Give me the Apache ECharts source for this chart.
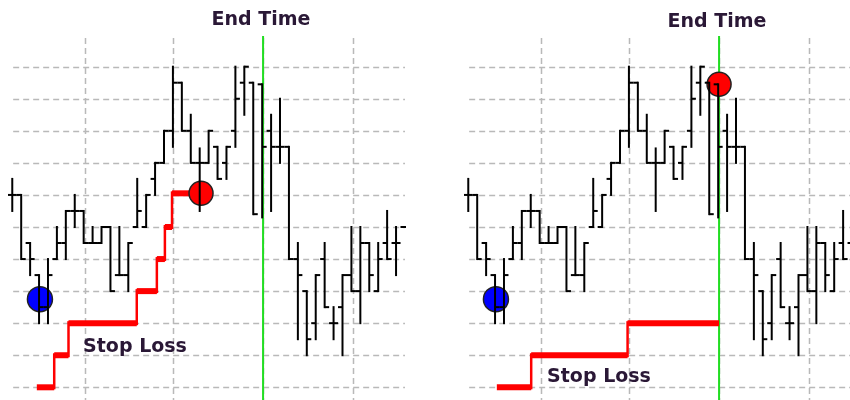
<!DOCTYPE html>
<html>
<head>
<meta charset="utf-8">
<script src="https://cdn.jsdelivr.net/npm/echarts@6/dist/echarts.min.js"></script>
<style>
  html, body { margin: 0; padding: 0; background: #ffffff; }
  #chart { width: 850px; height: 400px; }
</style>
</head>
<body>
<div id="chart"></div>
<script>
// Price bars (open / high / low / close), one per period
const barOpen  = [6.0, 6.0, 4.5, 3.5, 2.5, 4.0, 4.5, 5.5, 5.5, 4.5, 4.5, 5.0, 3.5, 3.5, 5.0, 5.0, 6.5, 7.0, 8.0, 9.5, 8.0, 7.0, 7.0, 7.5, 7.0, 8.0, 9.5, 9.5, 9.45, 8.0, 7.5, 7.5, 4.0, 3.0, 2.0, 4.0, 2.0, 2.5, 3.5, 3.0, 4.5, 3.0, 4.5, 4.5, 5.0];
const barHigh  = [6.5, 6.0, 4.5, 3.5, 4.0, 5.0, 5.5, 6.0, 5.5, 5.0, 5.0, 5.0, 5.0, 4.5, 6.5, 6.0, 7.0, 8.0, 10.0, 9.5, 8.5, 7.45, 8.0, 7.5, 7.5, 10.0, 10.0, 9.5, 9.45, 8.5, 9.0, 7.5, 4.5, 3.0, 3.5, 4.5, 2.5, 3.5, 5.0, 5.0, 4.5, 4.5, 5.5, 5.0, 5.0];
const barLow   = [5.5, 4.0, 3.5, 2.0, 2.0, 4.0, 4.0, 5.0, 4.5, 4.5, 4.5, 3.0, 3.5, 3.0, 5.0, 5.0, 6.0, 7.0, 7.5, 8.0, 7.0, 5.5, 7.0, 6.5, 6.5, 7.5, 8.5, 5.4, 5.3, 5.5, 7.0, 4.0, 1.5, 1.0, 1.5, 2.5, 1.5, 1.0, 3.0, 2.0, 3.0, 3.0, 4.0, 3.5, 5.0];
const barClose = [6.0, 4.0, 4.0, 2.5, 3.5, 4.5, 5.5, 5.5, 4.5, 4.5, 5.0, 3.0, 3.5, 4.5, 5.5, 6.0, 7.0, 8.0, 9.5, 8.0, 7.0, 7.0, 8.0, 6.5, 7.5, 9.0, 10.0, 5.4, 7.5, 7.5, 7.5, 4.0, 3.5, 1.5, 3.5, 2.5, 2.0, 3.5, 3.0, 4.5, 3.5, 4.0, 4.0, 4.5, 5.0];

// Price grid levels and time grid positions (bar index)
const priceLevels = [0, 1, 2, 3, 4, 5, 6, 7, 8, 9, 10];
const timeLines = [8.15, 18.05, 28.1, 38.2];

// End-time marker (bar index)
const endTime = 28.1;

// Entry point
const entryPoint = [3.1, 2.75];

// Left panel: trailing stop that moves up every period
const trailStart = [2.75, 4.7, 6.3, 13.95, 16.2, 17.1, 17.9];
const trailEnd   = [4.7, 6.3, 13.95, 16.2, 17.1, 17.9, 21.15];
const trailLevel = [0, 1, 2, 3, 4, 5, 6.05];
const trailExit  = [21.15, 6.05];

// Right panel: stepped stop held until the end time
const stepStart = [3.2, 7.05, 17.85];
const stepEnd   = [7.05, 17.85, 28.1];
const stepLevel = [0, 1, 2];
const stepExit  = [28.1, 9.45];

const X_MIN = -0.4, X_MAX = 44;
const Y_MIN = -0.396, Y_MAX = 10.957;
const BAR_STEP = 8.925;          // pixels per bar
const GRID_L = 8.7, GRID_W = (X_MAX - X_MIN) * BAR_STEP;
const PANEL_SHIFT = 456;
const RIGHT_W = 850 - GRID_L - PANEL_SHIFT;
const RIGHT_X_MAX = X_MIN + RIGHT_W / BAR_STEP;
const GRID_COLOR = '#b9b9b9';
const TEXT_COLOR = '#2a1836';

const ohlc = barOpen.map((o, i) => [i, o, barHigh[i], barLow[i], barClose[i]]);

function stopData(starts, ends, levels) {
  return starts.map((s, i) => [s, ends[i], levels[i], i === 0 ? levels[i] : levels[i - 1]]);
}

function renderBar(params, api) {
  const x = api.value(0);
  const pO = api.coord([x, api.value(1)]);
  const pH = api.coord([x, api.value(2)]);
  const pL = api.coord([x, api.value(3)]);
  const pC = api.coord([x, api.value(4)]);
  const t = 4.5;
  const st = { stroke: '#000000', lineWidth: 2 };
  return {
    type: 'group',
    children: [
      { type: 'line', shape: { x1: pH[0], y1: pH[1] - 1, x2: pL[0], y2: pL[1] + 1 }, style: st },
      { type: 'line', shape: { x1: pO[0] - t, y1: pO[1], x2: pO[0], y2: pO[1] }, style: st },
      { type: 'line', shape: { x1: pC[0], y1: pC[1], x2: pC[0] + t, y2: pC[1] }, style: st }
    ]
  };
}

function renderHGrid(params, api) {
  const v = api.value(0);
  const a = api.coord([0.1, v]);
  const b = api.coord([X_MAX, v]);
  return {
    type: 'line',
    shape: { x1: a[0], y1: Math.round(a[1]) + 0.5, x2: b[0], y2: Math.round(b[1]) + 0.5 },
    style: { stroke: GRID_COLOR, lineWidth: 1.5, lineDash: [6, 4] }
  };
}

function renderVGrid(params, api) {
  const x = api.value(0);
  const a = api.coord([x, Y_MAX]);
  const b = api.coord([x, Y_MIN]);
  return {
    type: 'line',
    shape: { x1: Math.round(a[0]) + 0.5, y1: a[1] + 2, x2: Math.round(b[0]) + 0.5, y2: b[1] },
    style: { stroke: GRID_COLOR, lineWidth: 1.5, lineDash: [6, 4] }
  };
}

function renderEnd(params, api) {
  const x = api.value(0);
  const a = api.coord([x, Y_MAX]);
  const b = api.coord([x, Y_MIN]);
  return {
    type: 'line',
    shape: { x1: a[0], y1: a[1], x2: b[0], y2: b[1] },
    style: { stroke: '#22dd22', lineWidth: 2 }
  };
}

function renderStop(params, api) {
  const s = api.value(0), e = api.value(1), lv = api.value(2), prev = api.value(3);
  const a = api.coord([s, lv]);
  const b = api.coord([e, lv]);
  const p = api.coord([s, prev]);
  const children = [
    { type: 'line', shape: { x1: a[0], y1: a[1], x2: b[0], y2: b[1] },
      style: { stroke: '#ff0000', lineWidth: 6 } }
  ];
  if (prev !== lv) {
    children.push({ type: 'line', shape: { x1: p[0], y1: p[1] + 2, x2: a[0], y2: a[1] - 2 },
      style: { stroke: '#ff0000', lineWidth: 2.5 } });
  }
  return { type: 'group', children: children };
}

function panelSeries(idx, stops, exitPoint) {
  const ax = { xAxisIndex: idx, yAxisIndex: idx };
  return [
    Object.assign({ type: 'custom', z: 1, silent: true, renderItem: renderHGrid,
      data: priceLevels.map(v => [v]), clip: false }, ax),
    Object.assign({ type: 'custom', z: 1, silent: true, renderItem: renderVGrid,
      data: timeLines.map(v => [v]), clip: false }, ax),
    Object.assign({ type: 'custom', z: 2, silent: true, renderItem: renderEnd,
      data: [[endTime]], clip: false }, ax),
    Object.assign({ type: 'custom', z: 3, silent: true, renderItem: renderStop,
      data: stops, clip: false }, ax),
    Object.assign({ type: 'scatter', z: 4, silent: true, symbolSize: 25,
      itemStyle: { color: '#0000ff', opacity: 1, borderColor: '#222222', borderWidth: 1.5 },
      data: [entryPoint] }, ax),
    Object.assign({ type: 'scatter', z: 4, silent: true, symbolSize: 24,
      itemStyle: { color: '#ff0000', opacity: 1, borderColor: '#222222', borderWidth: 1.5 },
      data: [exitPoint] }, ax),
    Object.assign({ type: 'custom', z: 5, silent: true, renderItem: renderBar,
      data: ohlc, clip: true }, ax)
  ];
}

const chart = echarts.init(document.getElementById('chart'), null, { renderer: 'canvas' });

const axisX = (i, max) => ({ type: 'value', gridIndex: i, min: X_MIN, max: max, show: false, splitLine: { show: false } });
const axisY = i => ({ type: 'value', gridIndex: i, min: Y_MIN, max: Y_MAX, show: false, splitLine: { show: false } });

const labelFont = { fontFamily: 'DejaVu Sans', fontWeight: 'bold', fontSize: 19, fill: TEXT_COLOR,
  textAlign: 'center', textVerticalAlign: 'middle' };

chart.setOption({
  animation: false,
  backgroundColor: '#ffffff',
  grid: [
    { left: GRID_L, top: 36, width: GRID_W, height: 364 },
    { left: GRID_L + PANEL_SHIFT, top: 36, width: RIGHT_W, height: 364 }
  ],
  xAxis: [axisX(0, X_MAX), axisX(1, RIGHT_X_MAX)],
  yAxis: [axisY(0), axisY(1)],
  series: [
    ...panelSeries(0, stopData(trailStart, trailEnd, trailLevel), trailExit),
    ...panelSeries(1, stopData(stepStart, stepEnd, stepLevel), stepExit)
  ],
  graphic: [
    { type: 'text', x: 261, y: 20, z: 10, style: Object.assign({ text: 'End Time' }, labelFont) },
    { type: 'text', x: 717, y: 22, z: 10, style: Object.assign({ text: 'End Time' }, labelFont) },
    { type: 'text', x: 135, y: 347, z: 10, style: Object.assign({ text: 'Stop Loss' }, labelFont) },
    { type: 'text', x: 599, y: 377, z: 10, style: Object.assign({ text: 'Stop Loss' }, labelFont) }
  ]
});
</script>
</body>
</html>
